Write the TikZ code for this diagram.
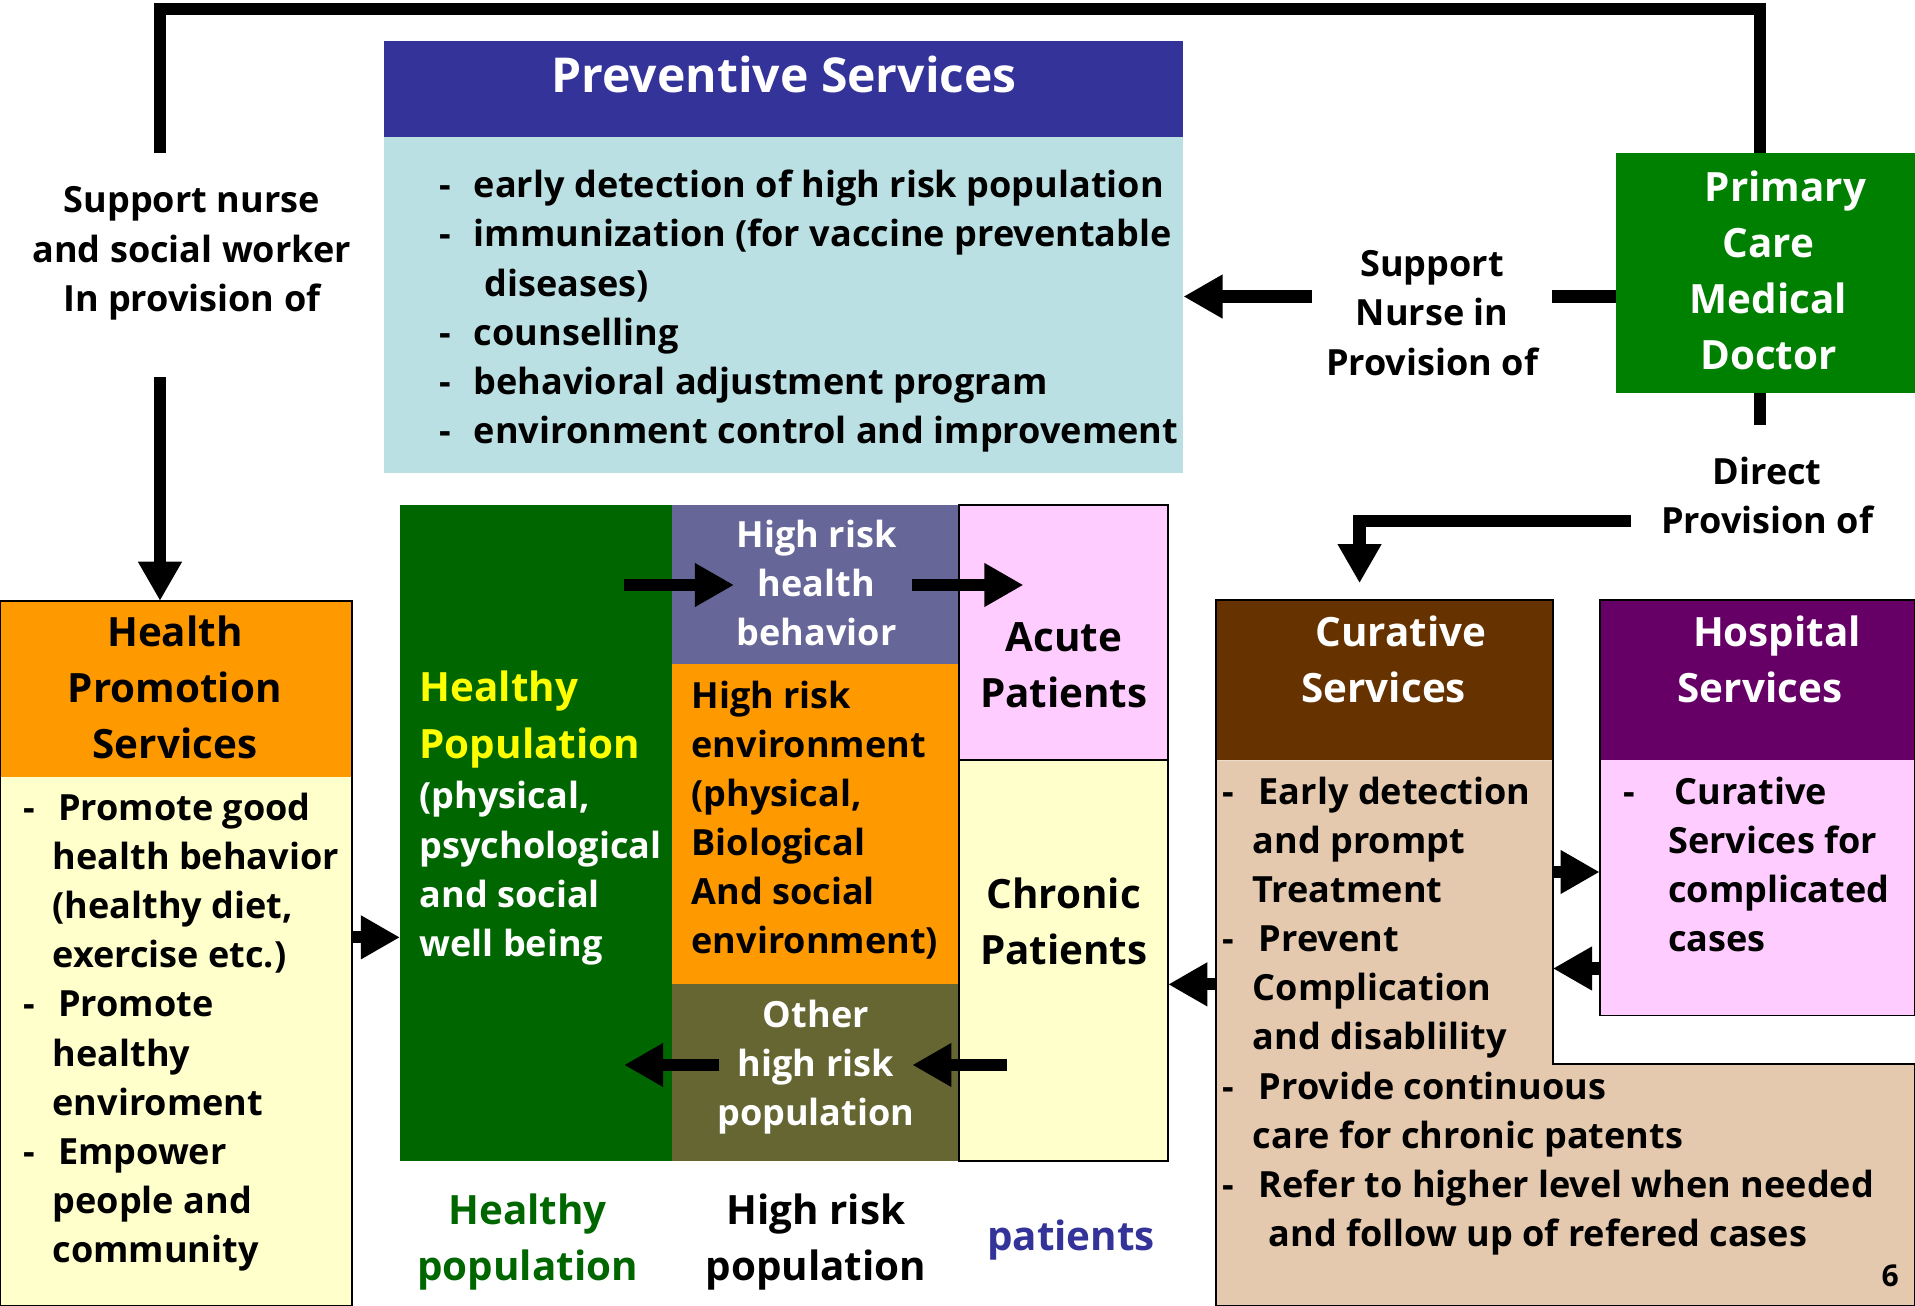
\documentclass[tikz,border=0pt]{standalone}
\usepackage{fontspec}
\setmainfont{Open Sans}
\usetikzlibrary{arrows.meta,fit}
\definecolor{prevH}{HTML}{333399}
\definecolor{prevB}{HTML}{BBE0E3}
\definecolor{pcmdG}{HTML}{008000}
\definecolor{orangeH}{HTML}{FF9900}
\definecolor{paleY}{HTML}{FFFFCC}
\definecolor{darkG}{HTML}{006600}
\definecolor{slateB}{HTML}{666699}
\definecolor{oliveB}{HTML}{666633}
\definecolor{pinkB}{HTML}{FFCCFF}
\definecolor{brownH}{HTML}{663300}
\definecolor{beigeB}{HTML}{E4C9AF}
\definecolor{purpH}{HTML}{660066}
\definecolor{yelT}{HTML}{FFFF00}
\newcommand\bodyf{\fontsize{21}{28.6}\selectfont\bfseries}
\newcommand\titf{\fontsize{23.5}{32.7}\selectfont\bfseries}
\newcommand\bigf{\fontsize{28}{34}\selectfont\bfseries}
\newcommand\pgf{\fontsize{17.5}{22}\selectfont\bfseries}
\newcommand\dsh[1]{\makebox[#1][l]{-}}
\begin{document}
\begin{tikzpicture}[x=0.025cm,y=-0.025cm,
  box/.style={inner sep=0pt,outer sep=0pt},
  bord/.style={draw=black,line width=1.1pt},
  lbl/.style={inner sep=0pt,outer sep=0pt,font=\bodyf,align=left,anchor=north west},
  lblc/.style={inner sep=0pt,outer sep=0pt,font=\bodyf,align=center,anchor=north},
  ttl/.style={inner sep=0pt,outer sep=0pt,font=\titf,align=center,anchor=north},
  ttll/.style={inner sep=0pt,outer sep=0pt,font=\titf,align=left,anchor=north west},
  conn/.style={line width=7.1pt},
  arr/.style={line width=7.1pt,-{Triangle[length=22.8pt,width=24pt]}}]
\useasboundingbox (0,0) rectangle (1568,1069);

% ---------- boxes ----------
\node[box,fill=prevH,fit={(314.4,33.6) (969,112.3)}] (prevh) {};
\node[box,fill=prevB,fit={(314.4,112.3) (969,387.4)}] (prevb) {};
\node[box,fill=pcmdG,fit={(1323,125.3) (1568,321.5)}] (pcmd) {};

\node[box,fill=orangeH,fit={(0,492) (288,635.8)}] (hph) {};
\node[box,fill=paleY,fit={(0,635.8) (288,1069)}] (hpb) {};
\draw[bord] (0,492) rectangle (288,1069);

\node[box,fill=darkG,fit={(327.5,413.5) (550,950.5)}] (healthy) {};
\node[box,fill=slateB,fit={(550,413.5) (785.5,544)}] (hrb) {};
\node[box,fill=orangeH,fit={(550,544) (785.5,806)}] (hre) {};
\node[box,fill=oliveB,fit={(550,806) (785.5,950.5)}] (hro) {};
\node[box,fill=pinkB,bord,fit={(785.5,413.5) (956.5,622.5)}] (acute) {};
\node[box,fill=paleY,bord,fit={(785.5,622.5) (956.5,950.5)}] (chronic) {};

\node[box,fill=brownH,fit={(995.5,491.5) (1271.5,622.5)}] (curh) {};
\fill[beigeB] (995.5,622.5) -- (1271.5,622.5) -- (1271.5,871.5) -- (1568,871.5) -- (1568,1069) -- (995.5,1069) -- cycle;
\node[box,fit={(995.5,622.5) (1271.5,871.5)}] (curb) {};
\draw[bord] (995.5,491.5) -- (1271.5,491.5) -- (1271.5,871.5) -- (1568,871.5) -- (1568,1069) -- (995.5,1069) -- cycle;

\node[box,fill=purpH,fit={(1309.8,491.5) (1568,622.5)}] (hosh) {};
\node[box,fill=pinkB,fit={(1309.8,622.5) (1568,831.5)}] (hosb) {};
\draw[bord] (1309.8,491.5) rectangle (1568,831.5);

% ---------- connectors ----------
\coordinate (tl) at (131,7.5);
\coordinate (tr) at (1441.3,7.5);
\coordinate (tlend) at (131,125);
\draw[conn] (pcmd.north -| tr) -- (tr) -- (tl) -- (tlend);
\coordinate (dstart) at (131,309);
\draw[arr] (dstart) -- (hph.north -| dstart);

\coordinate (sn1) at (1271,242.8);
\coordinate (sn2) at (1074,242.8);
\draw[conn] (pcmd.west |- sn1) -- (sn1);
\draw[arr] (sn2) -- (prevb.east |- sn2);

\coordinate (dp1) at (1441.3,348);
\draw[conn] (pcmd.south -| dp1) -- (dp1);
\coordinate (dp2) at (1335.4,426.4);
\coordinate (dp3) at (1113.2,426.4);
\coordinate (dp4) at (1113.2,477.5);
\draw[arr] (dp2) -- (dp3) -- (dp4);

\coordinate (a1s) at (511,479);
\coordinate (a1e) at (601,479);
\coordinate (a2s) at (747,479);
\coordinate (a2e) at (838,479);
\coordinate (a3s) at (824.7,872);
\coordinate (a3e) at (747,872);
\coordinate (a4s) at (589,872);
\coordinate (a4e) at (511,872);
\draw[arr] (a1s) -- (a1e);
\draw[arr] (a2s) -- (a2e);
\draw[arr] (a3s) -- (a3e);
\draw[arr] (a4s) -- (a4e);

\draw[arr] (hpb.east |- 0,767.5) -- (healthy.west |- 0,767.5);
\draw[arr] (curb.east |- 0,714) -- (hosb.west |- 0,714);
\draw[arr] (hosb.west |- 0,793) -- (curb.east |- 0,793);
\draw[arr] (curb.west |- 0,806) -- (chronic.east |- 0,806);

% ---------- texts ----------
\node[inner sep=0pt,font=\bigf,text=white,anchor=base] (prevt) at (642,75.5) {Preventive Services};
\node[lbl] (prevl) at (360,133.8) {\strut\dsh{19.9pt}early detection of high risk population\\
\dsh{19.9pt}immunization (for vaccine preventable\\
\hspace*{26pt}diseases)\\
\dsh{19.9pt}counselling\\
\dsh{19.9pt}behavioral adjustment program\\
\dsh{19.9pt}environment control and improvement};

\node[lblc] (snt) at (157,146.2) {\strut Support nurse\\and social worker\\In provision of};
\node[lblc] (snurse) at (1172.6,198.5) {\strut Support\\Nurse in\\Provision of};
\node[lblc] (direct) at (1447,368.5) {\strut Direct\\Provision of};
\node[ttl,text=white] (pcmdt) at (1448,132.6) {\strut\hspace*{20pt}Primary\\Care\\Medical\\Doctor};

\node[ttl] (hpt) at (143.2,497.2) {\strut Health\\Promotion\\Services};
\node[lbl] (hpl) at (19,643.6) {\strut\dsh{20.3pt}Promote good\\
\hspace*{17.1pt}health behavior\\
\hspace*{17.1pt}(healthy diet,\\
\hspace*{17.1pt}exercise etc.)\\
\dsh{20.3pt}Promote\\
\hspace*{17.1pt}healthy\\
\hspace*{17.1pt}enviroment\\
\dsh{20.3pt}Empower\\
\hspace*{17.1pt}people and\\
\hspace*{17.1pt}community};

\node[ttll,text=yelT] (hpy) at (343.6,542.6) {\strut Healthy\\Population};
\node[lbl,text=white] (hpw) at (343.6,634.2) {\strut(physical,\\psychological\\and social\\well being};

\node[lblc,text=white] (hrbt) at (668.6,420.1) {\strut High risk\\health\\behavior};
\node[lbl] (hret) at (566.2,551.7) {\strut High risk\\environment\\(physical,\\Biological\\And social\\environment)};
\node[lblc,text=white] (hrot) at (668,813.1) {\strut Other\\high risk\\population};

\node[ttl] (acutet) at (871,501.5) {\strut Acute\\Patients};
\node[ttl] (chront) at (871,711.6) {\strut Chronic\\Patients};

\node[ttl,text=darkG] (bhp) at (432,970.4) {\strut Healthy\\population};
\node[ttl] (bhr) at (668,970.4) {\strut High risk\\population};
\node[ttl,text=prevH] (bpt) at (877,991.6) {\strut patients};

\node[ttl,text=white] (curt) at (1133,497.2) {\strut\hspace*{20pt}Curative\\Services};
\node[lbl] (curl) at (1000.6,630.4) {\strut\dsh{21.4pt}Early detection\\
\hspace*{17.9pt}and prompt\\
\hspace*{17.9pt}Treatment\\
\dsh{21.4pt}Prevent\\
\hspace*{17.9pt}Complication\\
\hspace*{17.9pt}and disablility\\
\dsh{21.4pt}Provide continuous\\
\hspace*{17.9pt}care for chronic patents\\
\dsh{21.4pt}Refer to higher level when needed\\
\hspace*{27.3pt}and follow up of refered cases};

\node[ttl,text=white] (host) at (1441,497.2) {\strut\hspace*{20pt}Hospital\\Services};
\node[lbl] (hosl) at (1329,630.2) {\strut\dsh{29.9pt}Curative\\
\hspace*{26.3pt}Services for\\
\hspace*{26.3pt}complicated\\
\hspace*{26.3pt}cases};

\node[inner sep=0pt,font=\pgf,anchor=base] (pnum) at (1547.7,1053) {6};
\end{tikzpicture}
\end{document}
